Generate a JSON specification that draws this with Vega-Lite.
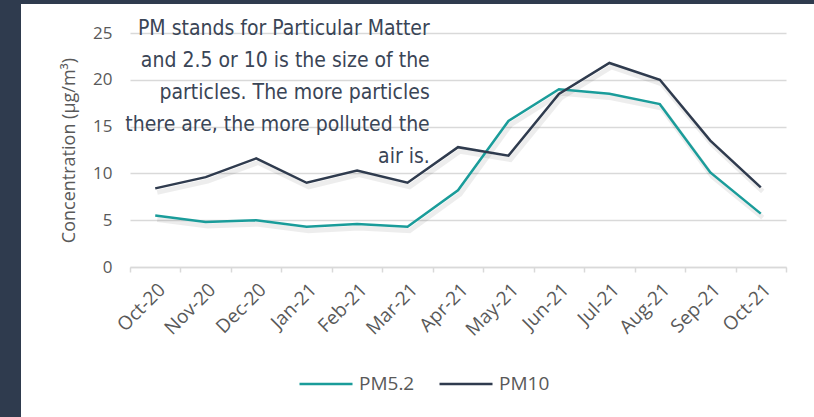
{
  "$schema": "https://vega.github.io/schema/vega-lite/v6.json",
  "autosize": "none",
  "width": 793,
  "height": 413,
  "padding": {"left": 21, "top": 4, "right": 0, "bottom": 0},
  "background": "#2f3b4e",
  "config": {
    "view": {"fill": "white", "stroke": null},
    "font": "Open Sans"
  },
  "data": {
    "values": [
      {"month": "Oct-20", "series": "PM5.2", "value": 5.5},
      {"month": "Nov-20", "series": "PM5.2", "value": 4.8},
      {"month": "Dec-20", "series": "PM5.2", "value": 5.0},
      {"month": "Jan-21", "series": "PM5.2", "value": 4.3},
      {"month": "Feb-21", "series": "PM5.2", "value": 4.6},
      {"month": "Mar-21", "series": "PM5.2", "value": 4.3},
      {"month": "Apr-21", "series": "PM5.2", "value": 8.2},
      {"month": "May-21", "series": "PM5.2", "value": 15.6},
      {"month": "Jun-21", "series": "PM5.2", "value": 19.0},
      {"month": "Jul-21", "series": "PM5.2", "value": 18.5},
      {"month": "Aug-21", "series": "PM5.2", "value": 17.4},
      {"month": "Sep-21", "series": "PM5.2", "value": 10.1},
      {"month": "Oct-21", "series": "PM5.2", "value": 5.7},
      {"month": "Oct-20", "series": "PM10", "value": 8.4},
      {"month": "Nov-20", "series": "PM10", "value": 9.6},
      {"month": "Dec-20", "series": "PM10", "value": 11.6},
      {"month": "Jan-21", "series": "PM10", "value": 9.0},
      {"month": "Feb-21", "series": "PM10", "value": 10.3},
      {"month": "Mar-21", "series": "PM10", "value": 9.0},
      {"month": "Apr-21", "series": "PM10", "value": 12.8},
      {"month": "May-21", "series": "PM10", "value": 11.9},
      {"month": "Jun-21", "series": "PM10", "value": 18.5},
      {"month": "Jul-21", "series": "PM10", "value": 21.8},
      {"month": "Aug-21", "series": "PM10", "value": 20.0},
      {"month": "Sep-21", "series": "PM10", "value": 13.5},
      {"month": "Oct-21", "series": "PM10", "value": 8.5}
    ]
  },
  "encoding": {
    "x": {
      "field": "month",
      "type": "ordinal",
      "bandPosition": 0.5,
      "sort": null,
      "scale": {
        "type": "band",
        "domain": ["Oct-20","Nov-20","Dec-20","Jan-21","Feb-21","Mar-21","Apr-21","May-21","Jun-21","Jul-21","Aug-21","Sep-21","Oct-21"],
        "range": [109, 765],
        "paddingInner": 0,
        "paddingOuter": 0
      },
      "axis": {
        "title": null,
        "offset": -150,
        "labelAngle": -45,
        "labelFontSize": 19,
        "labelColor": "#595959",
        "labelPadding": 8,
        "tickBand": "extent",
        "tickSize": 5,
        "tickColor": "#d9d9d9",
        "tickWidth": 1.5,
        "domainColor": "#d9d9d9",
        "domainWidth": 1.5,
        "grid": false
      }
    },
    "y": {
      "field": "value",
      "type": "quantitative",
      "scale": {"domain": [0, 25], "range": [263, 29], "nice": false},
      "axis": {
        "title": "Concentration (µg/m³)",
        "titleFontSize": 18,
        "titleFontWeight": "normal",
        "titleColor": "#595959",
        "titlePadding": 14,
        "offset": -109,
        "values": [0, 5, 10, 15, 20, 25],
        "labelFontSize": 17,
        "labelColor": "#595959",
        "labelPadding": 18,
        "ticks": false,
        "domain": false,
        "grid": true,
        "gridColor": "#d9d9d9",
        "gridWidth": 1.5
      }
    }
  },
  "layer": [
    {
      "mark": {"type": "line", "strokeWidth": 5, "xOffset": 2, "yOffset": 4, "opacity": 0.07, "color": "#000000"},
      "encoding": {"detail": {"field": "series"}}
    },
    {
      "mark": {"type": "line", "strokeWidth": 2.5},
      "encoding": {
        "color": {
          "field": "series",
          "type": "nominal",
          "scale": {"domain": ["PM5.2", "PM10"], "range": ["#1a9c9a", "#2f3b4e"]},
          "legend": {
            "title": null,
            "orient": "none",
            "direction": "horizontal",
            "legendX": 277,
            "legendY": 352,
            "symbolType": "stroke",
            "symbolSize": 2809,
            "symbolStrokeWidth": 2.5,
            "labelFontSize": 19,
            "labelColor": "#595959",
            "labelOffset": 5,
            "columnPadding": 19
          }
        }
      }
    },
    {
      "transform": [{"filter": "datum.month === 'Oct-20' && datum.series === 'PM10'"}],
      "mark": {
        "type": "text",
        "align": "right",
        "baseline": "alphabetic",
        "font": "DejaVu Sans Condensed, Liberation Sans",
        "fontSize": 21,
        "lineHeight": 32,
        "color": "#3a4556",
        "text": ["PM stands for Particular Matter", "and 2.5 or 10 is the size of the", "particles. The more particles", "there are, the more polluted the", "air is."]
      },
      "encoding": {
        "x": {"datum": "Mar-21", "bandPosition": 0.94},
        "y": {"datum": 24.8}
      }
    }
  ]
}
